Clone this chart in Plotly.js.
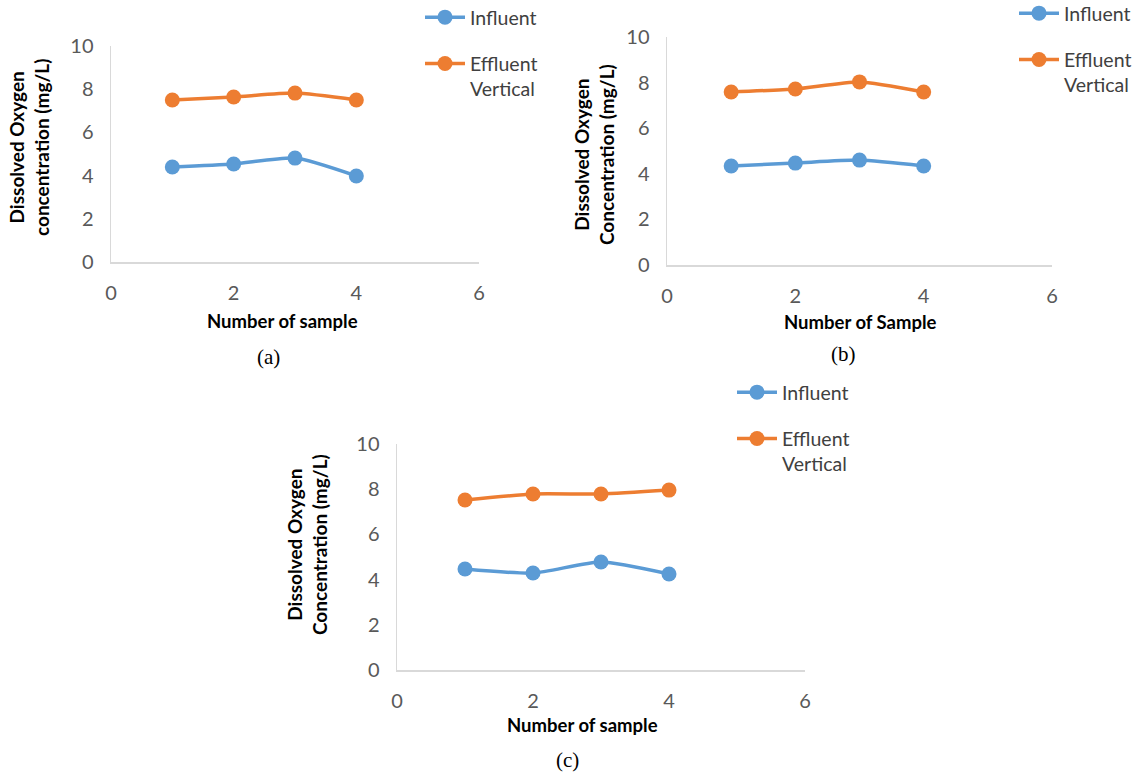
<!DOCTYPE html>
<html>
<head>
<meta charset="utf-8">
<script src="https://cdn.plot.ly/plotly-3.0.1.min.js"></script>
<style>html,body{margin:0;padding:0;background:#fff;}#chart{width:1144px;height:773px;}</style>
</head>
<body>
<div id="chart"></div>
<script>
// Data
const samples = [1, 2, 3, 4];
const influentA = [4.40, 4.54, 4.81, 3.98];
const effluentA = [7.50, 7.64, 7.82, 7.50];
const influentB = [4.34, 4.47, 4.60, 4.34];
const effluentB = [7.59, 7.72, 8.03, 7.59];
const influentC = [4.47, 4.29, 4.78, 4.25];
const effluentC = [7.52, 7.79, 7.79, 7.96];
const seriesNames = ["Influent", "Effluent<br>Vertical"];
const xTicks = [0, 2, 4, 6];
const yTicks = [0, 2, 4, 6, 8, 10];

const BLUE = "#5B9BD5", ORANGE = "#ED7D31";
const W = 1144, H = 773;
const px = v => v / W, py = v => 1 - v / H;

function tr(y, name, color, xa, ya, lg) {
  return {
    x: samples, y: y, name: name, type: "scatter", mode: "lines+markers",
    xaxis: xa, yaxis: ya, legend: lg, legendgroup: lg + name,
    line: {color: color, width: 3.5, shape: "spline", smoothing: 0.6},
    marker: {color: color, size: 15}
  };
}

const data = [
  tr(influentA, seriesNames[0], BLUE, "x", "y", "legend"),
  tr(effluentA, seriesNames[1], ORANGE, "x", "y", "legend"),
  tr(influentB, seriesNames[0], BLUE, "x2", "y2", "legend2"),
  tr(effluentB, seriesNames[1], ORANGE, "x2", "y2", "legend2"),
  tr(influentC, seriesNames[0], BLUE, "x3", "y3", "legend3"),
  tr(effluentC, seriesNames[1], ORANGE, "x3", "y3", "legend3")
];

const tickFont = {family: "Lato, 'Open Sans', sans-serif", size: 20, color: "#595959"};
function xax(d, anchor) {
  return {domain: d, anchor: anchor, range: [0, 6], tickvals: xTicks, showgrid: false,
    zeroline: false, showline: true, linecolor: "#D9D9D9", linewidth: 1.5, ticks: "",
    ticklabelstandoff: 12, tickfont: tickFont, fixedrange: true, automargin: false};
}
function yax(d, anchor) {
  return {domain: d, anchor: anchor, range: [0, 10], tickvals: yTicks, showgrid: false,
    zeroline: false, showline: true, linecolor: "#D9D9D9", linewidth: 1.5, ticks: "",
    ticklabelstandoff: 12, tickfont: tickFont, fixedrange: true, automargin: false};
}
function legend(x, y) {
  return {x: px(x), y: py(y), xanchor: "left", yanchor: "top", bgcolor: "rgba(0,0,0,0)",
    font: {family: "Lato, 'Open Sans', sans-serif", size: 19.5, color: "#404040"},
    traceorder: "grouped", tracegroupgap: 18, valign: "top", itemwidth: 40};
}

const titleFont = {family: "Lato, 'Open Sans', sans-serif", size: 18.5, color: "#000", weight: "bold"};
const yTitleFont = {family: "Lato, 'Open Sans', sans-serif", size: 19, color: "#000", weight: "bold"};
const capFont = {family: "'Liberation Serif', 'Times New Roman', serif", size: 21, color: "#000"};
function ann(text, x, y, font, angle) {
  return {text: text, x: px(x), y: py(y), xref: "paper", yref: "paper", showarrow: false,
    font: font, textangle: angle || 0, xanchor: "center", yanchor: "middle"};
}

const layout = {
  width: W, height: H, margin: {l: 0, r: 0, t: 0, b: 0, autoexpand: false},
  paper_bgcolor: "#fff", plot_bgcolor: "rgba(0,0,0,0)",
  xaxis: xax([px(111), px(479)], "y"),
  yaxis: yax([py(262), py(46)], "x"),
  xaxis2: xax([px(667), px(1052)], "y2"),
  yaxis2: yax([py(265), py(37)], "x2"),
  xaxis3: xax([px(397), px(805)], "y3"),
  yaxis3: yax([py(670), py(444)], "x3"),
  legend: legend(420, -2),
  legend2: legend(1014, -6),
  legend3: legend(732, 373),
  annotations: [
    ann("<b>Dissolved Oxygen<br>concentration (mg/L)</b>", 29, 148, yTitleFont, -90),
    ann("<b>Number of sample</b>", 282, 321, titleFont),
    ann("(a)", 268, 357, capFont),
    ann("<b>Dissolved Oxygen<br>Concentration (mg/L)</b>", 594, 155, yTitleFont, -90),
    ann("<b>Number of Sample</b>", 860, 322, titleFont),
    ann("(b)", 843, 354, capFont),
    ann("<b>Dissolved Oxygen<br>Concentration (mg/L)</b>", 307, 545, yTitleFont, -90),
    ann("<b>Number of sample</b>", 582, 725, titleFont),
    ann("(c)", 567, 760, capFont)
  ]
};

Plotly.newPlot("chart", data, layout, {displayModeBar: false, staticPlot: true});
</script>
</body>
</html>
